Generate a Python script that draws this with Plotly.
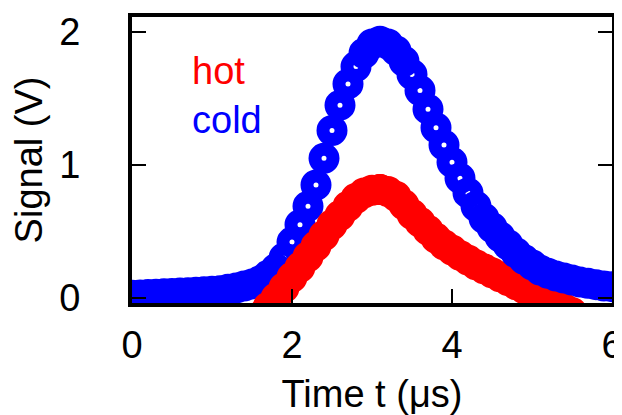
import plotly.graph_objects as go

# ---- data ----
cold_t = [round(0.1 * i, 1) for i in range(61)]
cold_v = [0.02, 0.022, 0.025, 0.028, 0.031, 0.034, 0.037, 0.040, 0.043, 0.047,
          0.050, 0.055, 0.065, 0.075, 0.09, 0.105, 0.13, 0.17, 0.22, 0.30,
          0.42, 0.55, 0.69, 0.85, 1.05, 1.26, 1.45, 1.61, 1.74, 1.84,
          1.91, 1.93, 1.91, 1.86, 1.78, 1.68, 1.56, 1.42, 1.28, 1.15,
          1.02, 0.90, 0.79, 0.69, 0.60, 0.53, 0.46, 0.40, 0.34, 0.29,
          0.25, 0.21, 0.185, 0.165, 0.15, 0.135, 0.12, 0.11, 0.10, 0.09,
          0.085]

hot_t = [round(1.6 + 0.1 * i, 1) for i in range(40)]
hot_v = [-0.14, -0.07, 0.0, 0.077, 0.155, 0.23, 0.31, 0.39, 0.47, 0.55,
         0.62, 0.69, 0.75, 0.79, 0.81, 0.815, 0.80, 0.765, 0.70, 0.63,
         0.57, 0.51, 0.45, 0.40, 0.36, 0.32, 0.285, 0.25, 0.22, 0.19,
         0.16, 0.13, 0.10, 0.07, 0.04, 0.01, -0.02, -0.05, -0.08, -0.11]

x_ticks = [0, 2, 4, 6]
y_ticks = [0, 1, 2]

FONT = "Liberation Sans, Arial, sans-serif"
marker_size = 18
marker_lw = 13

# split index of the hot series at its peak (the falling side lies under cold)
split = hot_t.index(3.1)


def ring(color):
    return dict(symbol="circle-open", size=marker_size, color=color,
                line=dict(width=marker_lw, color=color))


fig = go.Figure()
fig.add_trace(go.Scatter(x=hot_t[split:], y=hot_v[split:], mode="markers",
                         name="hot", marker=ring("#ff0000")))
fig.add_trace(go.Scatter(x=cold_t, y=cold_v, mode="markers",
                         name="cold", marker=ring("#0000ff")))
fig.add_trace(go.Scatter(x=hot_t[:split + 1], y=hot_v[:split + 1],
                         mode="markers", name="hot", marker=ring("#ff0000")))

fig.add_annotation(x=0.72, y=1.71, xref="x", yref="y", text="hot",
                   showarrow=False, xanchor="left", yanchor="middle",
                   font=dict(family=FONT, size=38, color="#ff0000"))
fig.add_annotation(x=0.72, y=1.34, xref="x", yref="y", text="cold",
                   showarrow=False, xanchor="left", yanchor="middle",
                   font=dict(family=FONT, size=38, color="#0000ff"))

axis_common = dict(
    showgrid=False, zeroline=False, ticks="inside", ticklen=14,
    tickwidth=1.5, tickcolor="black", showline=True, linecolor="black",
    linewidth=4, tickfont=dict(family=FONT, size=38, color="black"),
    automargin=False, ticklabeloverflow="allow",
)

fig.update_xaxes(range=[0, 6], tickvals=x_ticks, mirror=True,
                 ticklabelstandoff=5,
                 title=dict(text="Time t (μs)", standoff=22,
                            font=dict(family=FONT, size=38, color="black")),
                 **axis_common)
fig.update_yaxes(range=[-0.038, 2.113], tickvals=y_ticks, mirror="ticks",
                 ticklabelstandoff=40,
                 title=dict(text="Signal (V)", standoff=10,
                            font=dict(family=FONT, size=38, color="black")),
                 **axis_common)

# the page adds an 8 px body margin, so the figure is 8 px smaller each way
fig.update_layout(
    width=614, height=407,
    margin=dict(l=124, r=10, t=9, b=112, autoexpand=False),
    paper_bgcolor="white", plot_bgcolor="white",
    showlegend=False,
)

fig.write_html("out.html")
